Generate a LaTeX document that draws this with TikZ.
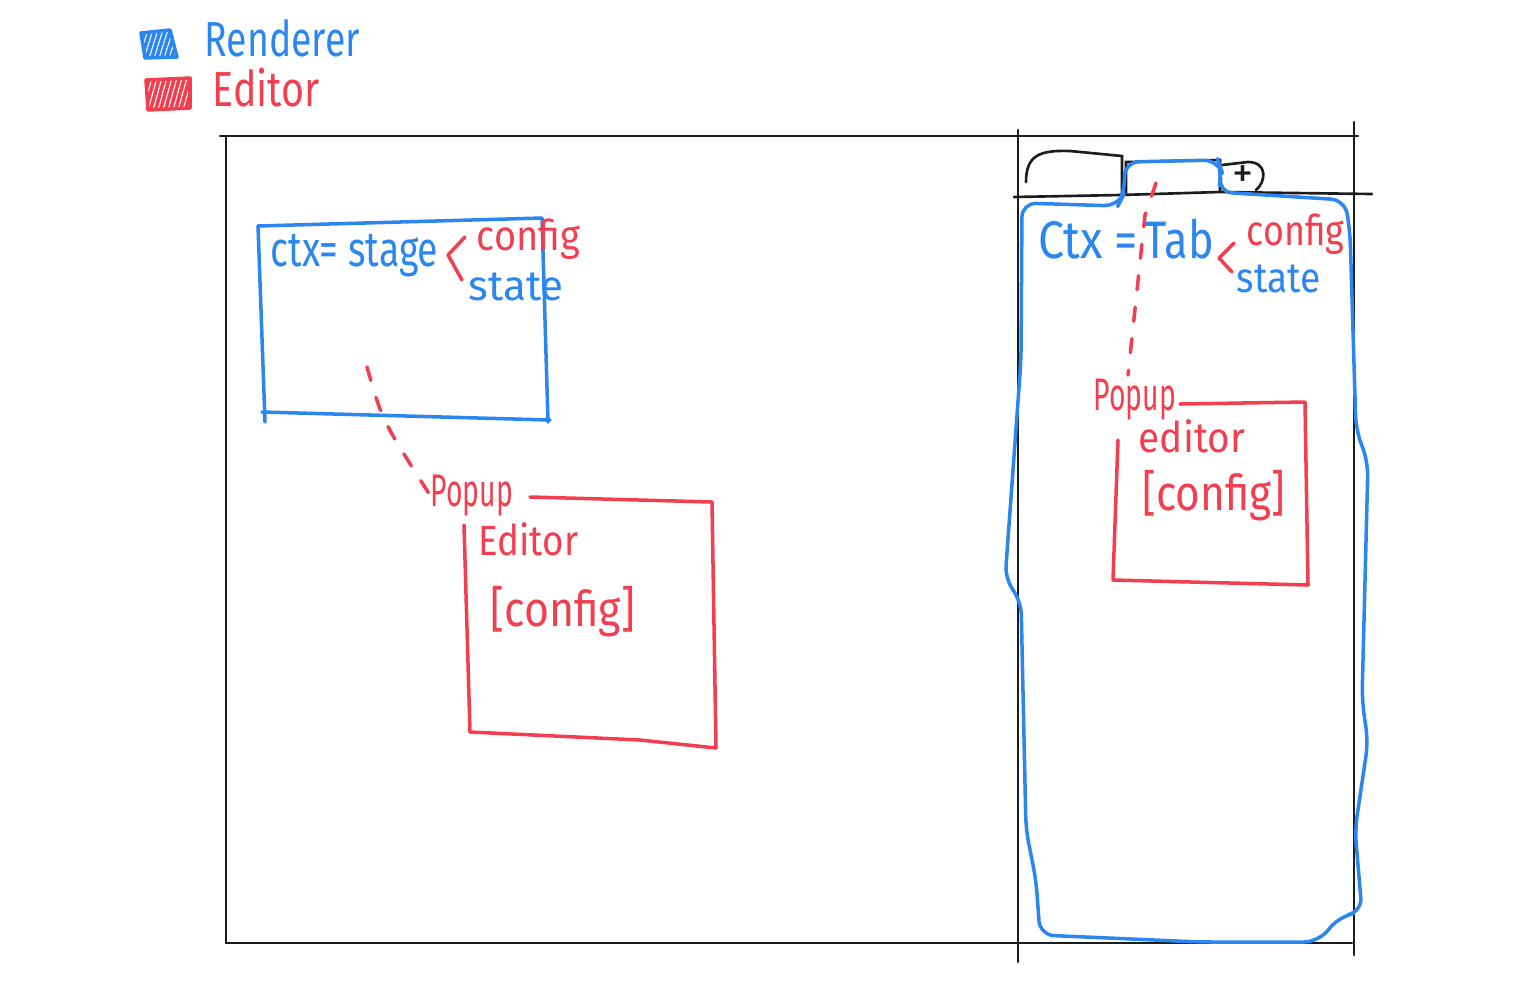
\documentclass[tikz,border=0pt]{standalone}
\usepackage{graphicx}
\usepackage{fontspec}
\setmainfont{Fira Sans}
\usetikzlibrary{patterns}
\definecolor{RendererBlue}{HTML}{2B87EF}
\definecolor{EditorRed}{HTML}{F23F50}
\definecolor{FrameBlack}{HTML}{1C1C1C}
% narrow the letters a bit, like the handwriting
\newcommand{\handtext}[2]{\scalebox{#1}[1]{#2}}

\tikzset{
  frame/.style={FrameBlack, line width=0.75pt, line cap=round},
  renderer/.style={RendererBlue, line width=1pt, line cap=round, line join=round},
  editor/.style={EditorRed, line width=1pt, line cap=round, line join=round},
  renderertext/.style={text=RendererBlue, inner sep=0pt, anchor=base west},
  editortext/.style={text=EditorRed, inner sep=0pt, anchor=base west},
  linkdash/.style={editor, dash pattern=on 4pt off 5pt}
}

\begin{document}
\begin{tikzpicture}[x=0.01cm, y=-0.01cm, font=\fontsize{12}{14}\selectfont]
  \useasboundingbox (0,0) rectangle (1536,996);

  % legend
  \begin{scope}
    \clip (141,33) -- (170,30) -- (177,57) -- (145,58) -- cycle;
    \foreach \i in {0,...,9} \draw[renderer] (136+\i*5,60) -- (146+\i*5,28);
  \end{scope}
  \draw[renderer] (141,33) -- (170,30) -- (177,57) -- (145,58) -- cycle;
  \node[renderertext, font=\fontsize{14}{16}\selectfont] (legendrenderer) at (204,56) {\handtext{0.76}{Renderer}};
  \begin{scope}
    \clip (146,80) -- (190,78) -- (190,108) -- (148,110) -- cycle;
    \foreach \i in {0,...,11} \draw[editor] (140+\i*5,112) -- (150+\i*5,76);
  \end{scope}
  \draw[editor] (146,80) -- (190,78) -- (190,108) -- (148,110) -- cycle;
  \node[editortext, font=\fontsize{14}{16}\selectfont] (legendeditor) at (212,106) {\handtext{0.8}{Editor}};

  % window frame
  \draw[frame] (220,136) -- (1358,136);
  \draw[frame] (226,136) -- (226,943) -- (1352,943);
  \draw[frame] (1018,130) -- (1018,962);
  \draw[frame] (1354,122) -- (1354,955);

  % tab bar
  \draw[frame] (1014,197) -- (1120,195) -- (1220,192) -- (1372,194);
  \draw[frame] (1026,182) .. controls (1026,155) and (1040,150) .. (1070,151)
    -- (1122,156) -- (1122,195);
  \draw[frame] (1126,193) -- (1126,162) -- (1220,160) -- (1220,192);
  \draw[frame] (1222,165) -- (1248,162) .. controls (1268,162) and (1266,182) .. (1256,190);
  \node[text=FrameBlack, inner sep=0pt] (newtab) at (1243,177) {+};

  % tab renderer
  \draw[renderer, rounded corners=4pt]
    (1022,203) -- (1118,206) -- (1124,194) -- (1125,162) -- (1218,160)
    -- (1222,172) -- (1218,192) -- (1345,200) -- (1350,232) -- (1356,430)
    -- (1368,462) -- (1362,700) -- (1368,742) -- (1355,830) -- (1362,912)
    -- (1340,916) -- (1318,942) -- (1200,942) -- (1040,935) -- (1036,880)
    -- (1026,830) -- (1021,600) -- (1005,580) -- (1021,360) -- cycle;
  \node[renderertext, font=\fontsize{15}{17}\selectfont] (ctxtab) at (1038,258) {\handtext{0.88}{Ctx =}};
  \node[renderertext, font=\fontsize{15}{17}\selectfont] (tabname) at (1144,258) {\handtext{0.82}{Tab}};
  \draw[editor] (1234,243) -- (1219,258) -- (1232,272);
  \node[editortext] (tabconfig) at (1246,245) {\handtext{0.85}{config}};
  \node[renderertext] (tabstate) at (1236,292) {\handtext{0.88}{state}};

  % tab popup editor
  \node[editortext, font=\fontsize{13}{15}\selectfont] (tabpopup) at (1093,410) {\handtext{0.62}{Popup}};
  \draw[editor] (1180,404) -- (1305,402) -- (1308,585) -- (1113,580) -- (1118,440);
  \node[editortext] (tabeditor) at (1138,452) {\handtext{0.92}{editor}};
  \node[editortext, font=\fontsize{14}{16}\selectfont] (tabpopupconfig) at (1142,510) {\handtext{0.86}{[config]}};
  \coordinate (tabhook) at (1156,183);
  \draw[linkdash] (tabhook) -- (1145,215) -- (1128,375);

  % stage renderer
  \draw[renderer] (258,226) -- (542,218) -- (548,422);
  \draw[renderer] (258,226) -- (265,422);
  \draw[renderer] (262,412) -- (550,420);
  \node[renderertext, font=\fontsize{14}{16}\selectfont] (ctxstage) at (270,266) {\handtext{0.76}{ctx= stage}};
  \draw[editor] (465,237) -- (448,255) -- (462,280);
  \node[editortext] (stageconfig) at (476,250) {\handtext{0.9}{config}};
  \node[renderertext] (stagestate) at (468,300) {state};

  % stage popup editor
  \node[editortext, font=\fontsize{13}{15}\selectfont] (stagepopup) at (430,506) {\handtext{0.62}{Popup}};
  \draw[editor] (530,497) -- (712,502) -- (716,748) -- (640,740) -- (470,732) -- (464,525);
  \node[editortext] (stageeditor) at (478,555) {\handtext{0.87}{Editor}};
  \node[editortext, font=\fontsize{14}{16}\selectfont] (stagepopupconfig) at (490,626) {\handtext{0.87}{[config]}};
  \coordinate (stagehook) at (367,367);
  \draw[linkdash] (stagehook) .. controls (382,420) .. (stagepopup.west);
\end{tikzpicture}
\end{document}
